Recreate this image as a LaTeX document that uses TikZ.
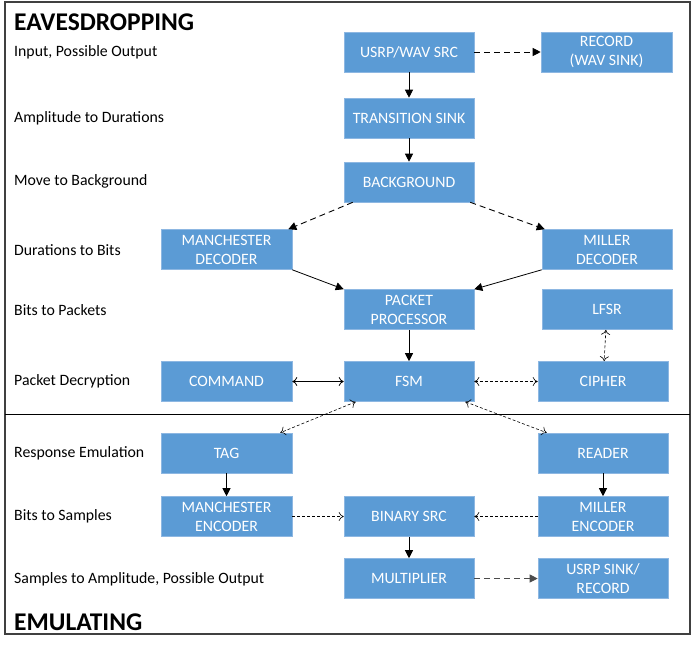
\documentclass[tikz,border=0pt]{standalone}
\usepackage{fontspec}
\setmainfont{Carlito}
\usepackage{xcolor}
\usepackage{tikz}
\usetikzlibrary{calc,arrows.meta}
\definecolor{boxblue}{HTML}{5B9BD5}
\definecolor{boxedge}{HTML}{8DB7E2}
\begin{document}
\begin{tikzpicture}[x=1pt,y=-1pt,
    blk/.style={draw=boxedge,line width=0.6pt,fill=boxblue,text=white,minimum width=130pt,minimum height=40pt,inner sep=1pt,align=center,font=\fontsize{15.8}{19}\selectfont},
    lbl/.style={anchor=west,inner sep=0pt,font=\fontsize{15.8}{18}\selectfont},
    ttl/.style={anchor=west,inner sep=0pt,font=\fontsize{25.5}{28}\selectfont\bfseries},
    solidarr/.style={-{Triangle[length=8pt,width=8pt]},line width=0.8pt},
    longdash/.style={-{Triangle[length=8pt,width=8pt]},line width=0.9pt,dash pattern=on 6pt off 4pt},
    finedash/.style={{To[length=5pt,width=9pt]}-{To[length=5pt,width=9pt]},line width=0.6pt,dash pattern=on 3pt off 2pt},
    finedashone/.style={-{To[length=5pt,width=9pt]},line width=0.6pt,dash pattern=on 3pt off 2pt},
    twohead/.style={{To[length=5pt,width=9pt]}-{To[length=5pt,width=9pt]},line width=0.8pt}]
    \useasboundingbox (0,0) rectangle (692,649);
    \draw[line width=1.2pt,black!75] (5,2) rectangle (690,634);
    \draw[line width=1pt] (5,414) -- (690,414);
    \node[ttl] (eaves) at (14,22) {EAVESDROPPING};
    \node[ttl] (emul) at (14,622) {EMULATING};
    \node[lbl] (l1) at (14,52) {Input, Possible Output};
    \node[lbl] (l2) at (14,118) {Amplitude to Durations};
    \node[lbl] (l3) at (14,181) {Move to Background};
    \node[lbl] (l4) at (14,250) {Durations to Bits};
    \node[lbl] (l5) at (14,310) {Bits to Packets};
    \node[lbl] (l6) at (14,381) {Packet Decryption};
    \node[lbl] (l7) at (14,453) {Response Emulation};
    \node[lbl] (l8) at (14,516) {Bits to Samples};
    \node[lbl] (l9) at (14,579) {Samples to Amplitude, Possible Output};
    \node[blk] (usrp) at (409,52) {USRP/WAV SRC};
    \node[blk,minimum width=131pt] (record) at (606.5,52) {RECORD\\(WAV SINK)};
    \node[blk] (trans) at (409,118) {TRANSITION SINK};
    \node[blk] (bg) at (409,182) {BACKGROUND};
    \node[blk,minimum width=131pt] (mdec) at (226.5,249.5) {MANCHESTER\\DECODER};
    \node[blk] (mildec) at (607,249.5) {MILLER\\DECODER};
    \node[blk] (pp) at (409,309.5) {PACKET\\PROCESSOR};
    \node[blk] (lfsr) at (607,309.5) {LFSR};
    \node[blk,minimum width=131pt] (cmd) at (226.5,381.5) {COMMAND};
    \node[blk] (fsm) at (409,381.5) {FSM};
    \node[blk] (cipher) at (603,381.5) {CIPHER};
    \node[blk,minimum width=131pt] (tag) at (226.5,453) {TAG};
    \node[blk] (reader) at (603,453) {READER};
    \node[blk,minimum width=131pt] (menc) at (226.5,516.5) {MANCHESTER\\ENCODER};
    \node[blk] (bin) at (409,516.5) {BINARY SRC};
    \node[blk] (millenc) at (603,516.5) {MILLER\\ENCODER};
    \node[blk] (mult) at (409,578.5) {MULTIPLIER};
    \node[blk] (usink) at (603,578.5) {USRP SINK/\\RECORD};
    \draw[solidarr] (usrp) -- (trans);
    \draw[longdash] (usrp) -- (record);
    \draw[solidarr] (trans) -- (bg);
    \draw[longdash] ($(bg.south west)+(9,0)$) -- ($(mdec.north east)+(-4,0)$);
    \draw[longdash] ($(bg.south east)+(-4,0)$) -- ($(mildec.north west)+(3,0)$);
    \draw[solidarr] (mdec.south east) -- (pp.north west);
    \draw[solidarr] (mildec.south west) -- (pp.north east);
    \draw[solidarr] (pp) -- (fsm);
    \draw[twohead] (cmd) -- (fsm);
    \draw[finedash] (fsm) -- (cipher);
    \draw[finedash] (lfsr) -- (cipher);
    \draw[finedash] ($(fsm.south west)+(12,0)$) -- ($(tag.north east)+(-12,0)$);
    \draw[finedash] ($(fsm.south east)+(-9,0)$) -- ($(reader.north west)+(9,0)$);
    \draw[solidarr] (tag) -- (menc);
    \draw[solidarr] (reader) -- (millenc);
    \draw[finedashone] (menc) -- (bin);
    \draw[finedashone] (millenc) -- (bin);
    \draw[solidarr] (bin) -- (mult);
    \draw[longdash,black!70] (mult) -- (usink);
\end{tikzpicture}
\end{document}
